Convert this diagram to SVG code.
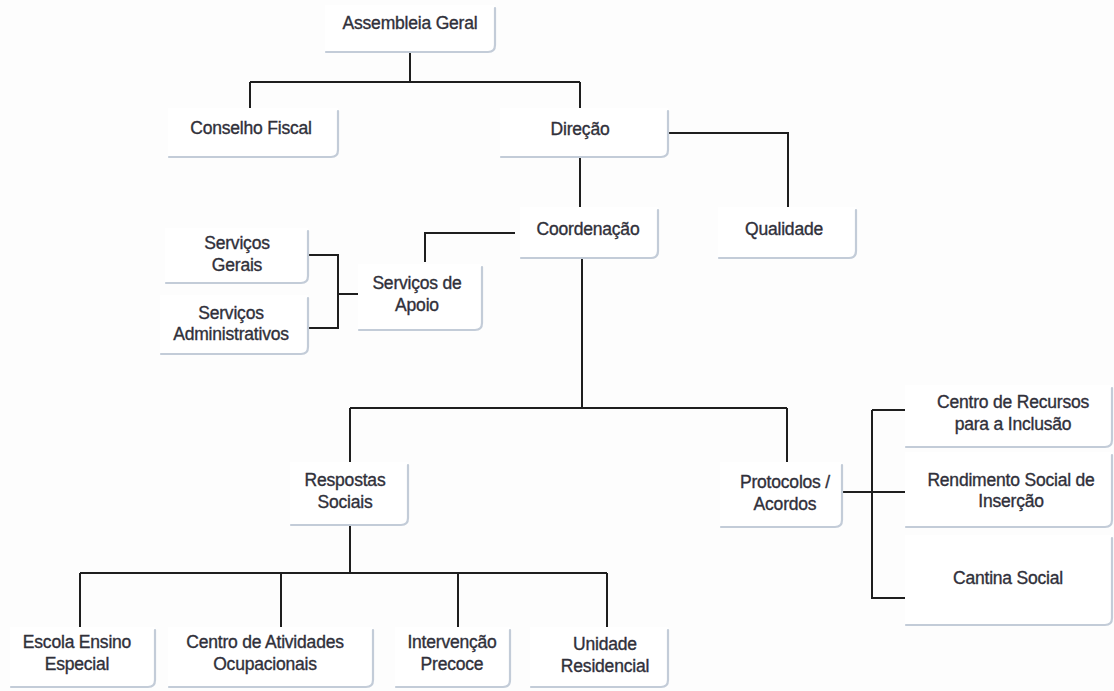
<svg xmlns="http://www.w3.org/2000/svg" width="1114" height="691" viewBox="0 0 1114 691">
<style>
.bg{fill:#fdfdfd}
.box{fill:#ffffff}
.sh{fill:none;stroke:#c3ccd8;stroke-width:2.2;stroke-linecap:round}
.t{font-family:"Liberation Sans",Arial,sans-serif;font-size:17.5px;fill:#30303a;stroke:#30303a;stroke-width:0.35;text-anchor:middle;letter-spacing:-0.2px}
.c{fill:none;stroke:#1e1e1e;stroke-width:2}
</style>
<rect class="bg" x="0" y="0" width="1114" height="691"/>
<g id="connectors">
<path class="c" d="M410 52V82M250 82H580M250 82V108M580 82V108"/>
<path class="c" d="M580 157V210M668 133H788V207"/>
<path class="c" d="M515 233H425V262"/>
<path class="c" d="M308 255H338V328H308M338 294H360"/>
<path class="c" d="M582 258V408M350 408H787M350 408V462M787 408V462"/>
<path class="c" d="M350 525V573M80 573H607M80 573V627M281 573V627M458 573V627M607 573V627"/>
<path class="c" d="M842 492H905M872 410H905M872 410V598H905"/>
</g>
<g id="assembleia">
<rect class="box" x="325" y="5" width="170" height="47"/>
<path class="sh" d="M495 8V45Q495 52 488 52H326"/>
<text class="t" x="410" y="29">Assembleia Geral</text>
</g>
<g id="conselho">
<rect class="box" x="168" y="108" width="170" height="49"/>
<path class="sh" d="M338 111V150Q338 157 331 157H169"/>
<text class="t" x="251" y="134">Conselho Fiscal</text>
</g>
<g id="direcao">
<rect class="box" x="500" y="108" width="168" height="49"/>
<path class="sh" d="M668 111V150Q668 157 661 157H501"/>
<text class="t" x="580" y="135">Direção</text>
</g>
<g id="coordenacao">
<rect class="box" x="520" y="207" width="138" height="51"/>
<path class="sh" d="M658 210V251Q658 258 651 258H521"/>
<text class="t" x="588" y="235">Coordenação</text>
</g>
<g id="qualidade">
<rect class="box" x="718" y="207" width="138" height="51"/>
<path class="sh" d="M856 210V251Q856 258 849 258H719"/>
<text class="t" x="784" y="235">Qualidade</text>
</g>
<g id="servicos-apoio">
<rect class="box" x="358" y="264" width="124" height="66"/>
<path class="sh" d="M482 267V323Q482 330 475 330H359"/>
<text class="t" x="417" y="289">Serviços de</text>
<text class="t" x="417" y="311">Apoio</text>
</g>
<g id="servicos-gerais">
<rect class="box" x="165" y="228" width="143" height="55"/>
<path class="sh" d="M308 231V276Q308 283 301 283H166"/>
<text class="t" x="237" y="249">Serviços</text>
<text class="t" x="237" y="271">Gerais</text>
</g>
<g id="servicos-administrativos">
<rect class="box" x="160" y="295" width="148" height="59"/>
<path class="sh" d="M308 298V347Q308 354 301 354H161"/>
<text class="t" x="231" y="319">Serviços</text>
<text class="t" x="231" y="340">Administrativos</text>
</g>
<g id="respostas-sociais">
<rect class="box" x="290" y="462" width="118" height="63"/>
<path class="sh" d="M408 465V518Q408 525 401 525H291"/>
<text class="t" x="345" y="486">Respostas</text>
<text class="t" x="345" y="508">Sociais</text>
</g>
<g id="protocolos">
<rect class="box" x="720" y="462" width="122" height="65"/>
<path class="sh" d="M842 465V520Q842 527 835 527H721"/>
<text class="t" x="785" y="488">Protocolos /</text>
<text class="t" x="785" y="510">Acordos</text>
</g>
<g id="centro-recursos">
<rect class="box" x="905" y="385" width="207" height="62"/>
<path class="sh" d="M1112 388V440Q1112 447 1105 447H906"/>
<text class="t" x="1013" y="408">Centro de Recursos</text>
<text class="t" x="1013" y="430">para a Inclusão</text>
</g>
<g id="rendimento">
<rect class="box" x="905" y="452" width="207" height="75"/>
<path class="sh" d="M1112 455V520Q1112 527 1105 527H906"/>
<text class="t" x="1011" y="486">Rendimento Social de</text>
<text class="t" x="1011" y="507">Inserção</text>
</g>
<g id="cantina">
<rect class="box" x="905" y="535" width="207" height="90"/>
<path class="sh" d="M1112 538V618Q1112 625 1105 625H906"/>
<text class="t" x="1008" y="584">Cantina Social</text>
</g>
<g id="escola">
<rect class="box" x="10" y="627" width="145" height="60"/>
<path class="sh" d="M155 630V680Q155 687 148 687H11"/>
<text class="t" x="77" y="648">Escola Ensino</text>
<text class="t" x="77" y="670">Especial</text>
</g>
<g id="centro-atividades">
<rect class="box" x="168" y="627" width="205" height="60"/>
<path class="sh" d="M373 630V680Q373 687 366 687H169"/>
<text class="t" x="265" y="648">Centro de Atividades</text>
<text class="t" x="265" y="670">Ocupacionais</text>
</g>
<g id="intervencao">
<rect class="box" x="395" y="627" width="115" height="60"/>
<path class="sh" d="M510 630V680Q510 687 503 687H396"/>
<text class="t" x="452" y="648">Intervenção</text>
<text class="t" x="452" y="670">Precoce</text>
</g>
<g id="unidade">
<rect class="box" x="530" y="627" width="138" height="60"/>
<path class="sh" d="M668 630V680Q668 687 661 687H531"/>
<text class="t" x="605" y="650">Unidade</text>
<text class="t" x="605" y="672">Residencial</text>
</g>
</svg>
